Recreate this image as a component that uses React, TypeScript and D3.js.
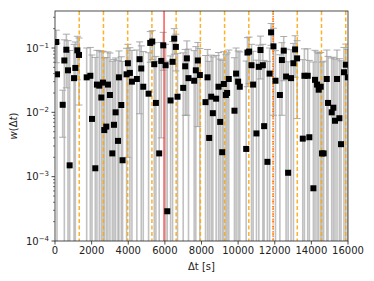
import React from 'react';
import * as d3 from 'd3';

// time lags (s), w values and their 1-sigma errors
const dt = [
  70, 110, 420, 510, 620, 710, 800, 1040, 1110, 1220, 1310, 1730, 1930, 2020, 2200, 2290, 2420, 2530, 2620, 2690,
  2800, 2890, 3000, 3130, 3220, 3310, 3440, 3490, 3620, 3690, 3910, 3980, 4090, 4200, 4470, 4620, 4710, 4820, 5110, 5200,
  5310, 5420, 5510, 5690, 5800, 5910, 6040, 6130, 6310, 6420, 6510, 6600, 6690, 7000, 7110, 7200, 7290, 7600, 7690, 7800,
  7910, 8220, 8330, 8420, 8530, 8620, 8800, 8930, 9020, 9130, 9220, 9330, 9400, 9490, 9800, 9890, 10000, 10090, 10440, 10510,
  10600, 10730, 10820, 11000, 11130, 11220, 11350, 11420, 11600, 11720, 11800, 11930, 12040, 12280, 12390, 12490, 12620, 12730, 12890, 13020,
  13110, 13220, 13530, 13620, 13800, 13890, 14110, 14200, 14310, 14400, 14510, 14580, 14670, 14840, 14910, 15110, 15200, 15290, 15400, 15530,
  15620, 15780, 15880, 15990,
];
const w = [
  0.124, 0.039, 0.0131, 0.064, 0.094, 0.045, 0.0015, 0.034, 0.049, 0.092, 0.078, 0.035, 0.037, 0.0079, 0.00135, 0.027, 0.026, 0.017, 0.029, 0.0053,
  0.006, 0.027, 0.0186, 0.0023, 0.0064, 0.01, 0.0036, 0.035, 0.013, 0.0018, 0.039, 0.058, 0.041, 0.03, 0.033, 0.067, 0.048, 0.025, 0.0195, 0.12,
  0.126, 0.056, 0.014, 0.0023, 0.063, 0.11, 0.054, 0.00029, 0.0153, 0.061, 0.14, 0.104, 0.0175, 0.024, 0.052, 0.069, 0.034, 0.031, 0.045, 0.064,
  0.038, 0.0144, 0.035, 0.004, 0.0175, 0.0097, 0.0163, 0.025, 0.0071, 0.0024, 0.0276, 0.0186, 0.02, 0.033, 0.0106, 0.04, 0.03, 0.025, 0.0027, 0.085,
  0.088, 0.054, 0.027, 0.0047, 0.051, 0.093, 0.054, 0.0061, 0.0017, 0.04, 0.175, 0.106, 0.031, 0.0186, 0.065, 0.091, 0.036, 0.00115, 0.034, 0.058,
  0.095, 0.069, 0.0039, 0.037, 0.037, 0.0041, 0.00066, 0.032, 0.027, 0.0225, 0.025, 0.0023, 0.0023, 0.033, 0.014, 0.01, 0.0118, 0.0074, 0.033, 0.0081,
  0.0032, 0.042, 0.055, 0.035,
];
const wErr = [
  0.065, 0.08, 0.009, 0.07, 0.07, 0.085, 0.09, 0.08, 0.075, 0.06, 0.065, 0.065, 0.065, 0.07, 0.07, 0.065, 0.065, 0.07, 0.06, 0.065,
  0.065, 0.06, 0.065, 0.06, 0.06, 0.06, 0.06, 0.055, 0.06, 0.06, 0.06, 0.056, 0.06, 0.062, 0.06, 0.0575, 0.06, 0.063, 0.065, 0.06,
  0.06, 0.065, 0.06, 0.06, 0.059, 0.065, 0.06, 0.062, 0.06, 0.065, 0.06, 0.06, 0.065, 0.06, 0.043, 0.06, 0.062, 0.06, 0.06, 0.058,
  0.06, 0.062, 0.06, 0.058, 0.06, 0.063, 0.06, 0.06, 0.06, 0.062, 0.06, 0.06, 0.064, 0.06, 0.06, 0.06, 0.06, 0.062, 0.06, 0.06,
  0.06, 0.06, 0.062, 0.06, 0.06, 0.06, 0.06, 0.058, 0.06, 0.06, 0.065, 0.097, 0.06, 0.06, 0.056, 0.06, 0.06, 0.06, 0.06, 0.06,
  0.06, 0.061, 0.062, 0.06, 0.06, 0.06, 0.06, 0.06, 0.06, 0.06, 0.06, 0.058, 0.06, 0.06, 0.06, 0.06, 0.06, 0.06, 0.06, 0.06,
  0.06, 0.06, 0.06, 0.06,
];

const period = 1323; // orange dashed harmonics
const harmonics = [1, 2, 3, 4, 5, 6, 7, 8, 9, 10, 11, 12];
const redSolid = 5955;
const redDotted = 11910;
const xTicks = [0, 2000, 4000, 6000, 8000, 10000, 12000, 14000, 16000];
const yExps = [-4, -3, -2, -1];

const left = 55, right = 348, top = 11, bottom = 241;

export default function App() {
  const x = d3.scaleLinear().domain([0, 16000]).range([left, right]);
  const y = d3.scaleLog().domain([1e-4, 0.376]).range([bottom, top]);

  const minor: number[] = [];
  yExps.forEach(e => {
    for (let k = 2; k <= 9; k++) {
      const v = k * Math.pow(10, e);
      if (v < 0.376) minor.push(v);
    }
  });

  const yc = (v: number) => (v <= 1e-4 ? bottom + 5 : y(v));

  return (
    <svg width={374} height={281} style={{ position: 'absolute', left: 0, top: 0 }}
      fontFamily="DejaVu Sans, sans-serif" fontSize={10}>
      <defs>
        <clipPath id="plot">
          <rect x={left} y={top} width={right - left} height={bottom - top} />
        </clipPath>
      </defs>
      <rect width={374} height={281} fill="white" />
      <g clipPath="url(#plot)">
        {/* error bars */}
        {dt.map((t, i) => {
          const hi = w[i] + wErr[i];
          const lo = w[i] - wErr[i];
          const cx = x(t);
          return (
            <g key={'e' + i}>
              <line x1={cx} x2={cx} y1={y(hi)} y2={yc(lo)} stroke="#a8a8a8" strokeWidth={1.6} opacity={0.7} />
              <line x1={cx - 3.5} x2={cx + 3.5} y1={y(hi)} y2={y(hi)} stroke="#999" strokeWidth={1} opacity={0.8} />
              {lo > 1e-4 && (
                <line x1={cx - 3.5} x2={cx + 3.5} y1={y(lo)} y2={y(lo)} stroke="#999" strokeWidth={1} opacity={0.8} />
              )}
            </g>
          );
        })}
        {harmonics.map(k => (
          <line key={'h' + k} x1={x(k * period)} x2={x(k * period)} y1={top} y2={bottom}
            stroke="#FFA500" strokeWidth={1.5} strokeDasharray="4,2.5" opacity={0.85} />
        ))}
        <line x1={x(redSolid)} x2={x(redSolid)} y1={top} y2={bottom} stroke="#ff2a2a" strokeWidth={1.2} />
        <line x1={x(redDotted)} x2={x(redDotted)} y1={top} y2={bottom} stroke="#ff2a2a" strokeWidth={1} strokeDasharray="1,1.5" />
        {dt.map((t, i) => (
          <rect key={'p' + i} x={x(t) - 3} y={y(w[i]) - 3} width={6} height={6} fill="black" />
        ))}
      </g>
      <rect x={left} y={top} width={right - left} height={bottom - top} fill="none" stroke="#222" strokeWidth={0.8} />
      {/* x axis */}
      {xTicks.map(t => (
        <g key={'xt' + t}>
          <line x1={x(t)} x2={x(t)} y1={bottom} y2={bottom + 3.5} stroke="#222" strokeWidth={0.8} />
          <text x={x(t)} y={bottom + 13} textAnchor="middle" fill="#222">{t}</text>
        </g>
      ))}
      <text x={(left + right) / 2} y={bottom + 29} textAnchor="middle" fill="#222">Δt [s]</text>
      {/* y axis */}
      {yExps.map(e => (
        <g key={'yt' + e}>
          <line x1={left - 3.5} x2={left} y1={y(Math.pow(10, e))} y2={y(Math.pow(10, e))} stroke="#222" strokeWidth={0.8} />
          <text x={left - 6} y={y(Math.pow(10, e)) + 3.5} textAnchor="end" fill="#222">
            10<tspan dy={-4} fontSize={7}>{'\u2212' + Math.abs(e)}</tspan>
          </text>
        </g>
      ))}
      {minor.map((v, i) => (
        <line key={'m' + i} x1={left - 2} x2={left} y1={y(v)} y2={y(v)} stroke="#222" strokeWidth={0.6} />
      ))}
      <text transform={`translate(17,${(top + bottom) / 2}) rotate(-90)`} textAnchor="middle" fill="#222">
        <tspan fontStyle="italic">w</tspan>(Δ<tspan fontStyle="italic">t</tspan>)
      </text>
    </svg>
  );
}
